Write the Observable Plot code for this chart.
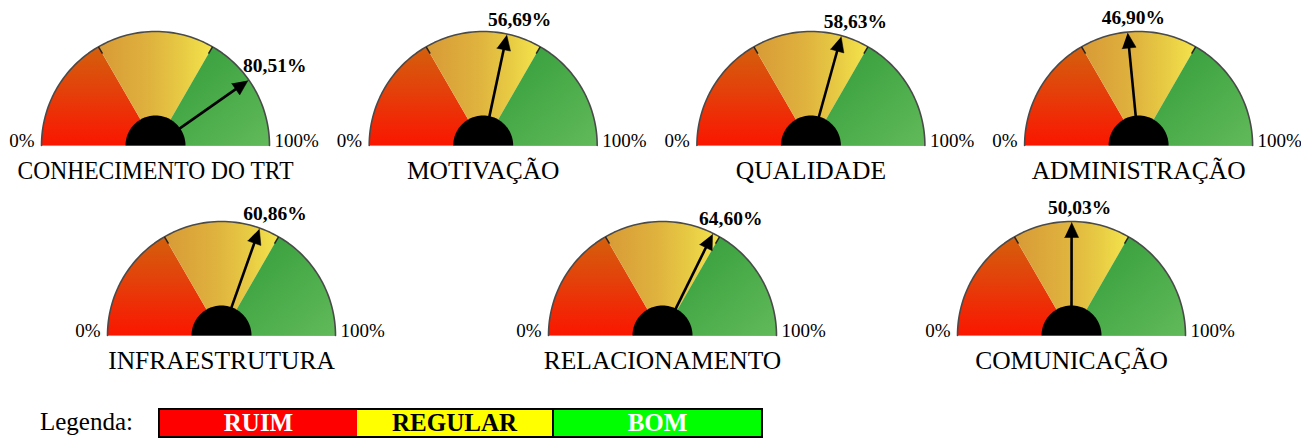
<!DOCTYPE html>
<html><head><meta charset="utf-8">
<script src="https://cdn.jsdelivr.net/npm/d3@7"></script>
<script src="https://cdn.jsdelivr.net/npm/@observablehq/plot@0.6"></script>
<style>
body{margin:0;background:#fff;width:1301px;height:439px;overflow:hidden;font-family:"Liberation Serif","Times New Roman",serif;}
#chart svg{display:block;}
#legend{position:relative;height:39px;width:1301px;}
#legend .lbl{position:absolute;left:40px;top:7px;font-size:25px;line-height:30px;color:#000;}
#legend .box{position:absolute;top:8px;height:26px;border:2px solid #000;box-sizing:content-box;display:flex;align-items:center;justify-content:center;font-weight:bold;font-size:25px;line-height:26px;}
</style></head><body><div id="chart"></div><div id="legend"></div>
<script>
// ---- data ----
const categories = ["CONHECIMENTO DO TRT","MOTIVAÇÃO","QUALIDADE","ADMINISTRAÇÃO","INFRAESTRUTURA","RELACIONAMENTO","COMUNICAÇÃO"];
const values = [80.51, 56.69, 58.63, 46.90, 60.86, 64.60, 50.03];
const bandNames = ["RUIM","REGULAR","BOM"];
const bandStops = [0, 33.33, 66.67, 100];
const endLabels = ["0%","100%"];
const legendTitle = "Legenda:";

// ---- layout ----
const W = 1301, H = 400, R = 114, HUB = 30;
const row2x = [221, 662, 1071];
const centers = categories.map((c, i) => i < 4 ? {cx: 155 + i * 327.7, cy: 145} : {cx: row2x[i - 4], cy: 335});
const ang = p => Math.PI * (1 - p / 100);
const pt = (i, p, rad) => ({x: centers[i].cx + rad * Math.cos(ang(p)), y: centers[i].cy - rad * Math.sin(ang(p))});
const fmt = v => v.toFixed(2).replace(".", ",") + "%";

// sector polygons
const sectors = [];
categories.forEach((c, i) => {
  bandNames.forEach((b, k) => {
    const z = i + "-" + k;
    sectors.push({...pt(i, 0, 0), z, band: k});
    for (let p = bandStops[k]; p <= bandStops[k + 1] + 1e-9; p += (bandStops[k + 1] - bandStops[k]) / 40)
      sectors.push({...pt(i, p, R), z, band: k});
    sectors.push({...pt(i, 0, 0), z, band: k});
  });
});
// outline arc
const arcs = [];
categories.forEach((c, i) => { for (let p = 0; p <= 100; p += 1) arcs.push({...pt(i, p, R), z: i}); });
// hub semicircle
const hubs = [];
categories.forEach((c, i) => { for (let p = 0; p <= 100; p += 2) hubs.push({...pt(i, p, HUB), z: i}); });
// boundary ticks
const ticks = [];
categories.forEach((c, i) => [bandStops[1], bandStops[2]].forEach(s => {
  const a = pt(i, s, R - 8), b = pt(i, s, R);
  ticks.push({x1: a.x, y1: a.y, x2: b.x, y2: b.y});
}));
// needles
const needles = values.map((v, i) => {
  const a = pt(i, v, HUB - 2), b = pt(i, v, R - 12);
  return {x1: a.x, y1: a.y, x2: b.x, y2: b.y};
});
const heads = [];
values.forEach((v, i) => {
  const tip = pt(i, v, R - 1), base = pt(i, v, R - 16);
  const t = ang(v), nx = Math.sin(t) * 7, ny = Math.cos(t) * 7;
  heads.push({x: tip.x, y: tip.y, z: i});
  heads.push({x: base.x + nx, y: base.y + ny, z: i});
  heads.push({x: base.x - nx, y: base.y - ny, z: i});
});
const valueLabels = values.map((v, i) => {
  const tip = pt(i, v, R);
  return {x: tip.x + 8 + 22 * Math.cos(ang(v)), y: tip.y - 8, text: fmt(v)};
});
const endText = [];
categories.forEach((c, i) => {
  endText.push({x: centers[i].cx - R - 7, y: centers[i].cy + 1, text: endLabels[0], anchor: "end"});
  endText.push({x: centers[i].cx + R + 5, y: centers[i].cy + 1, text: endLabels[1], anchor: "start"});
});
const catText = categories.map((c, i) => ({x: centers[i].cx, y: centers[i].cy + 33, text: c}));
const baseLines = categories.map((c, i) => ({x1: centers[i].cx - R, x2: centers[i].cx + R, y: centers[i].cy}));

const font = "Liberation Serif, Times New Roman, serif";
const gradIds = ["gRed", "gYel", "gGrn"];

const chart = Plot.plot({
  width: W, height: H, margin: 0,
  x: {domain: [0, W], range: [0, W], axis: null},
  y: {domain: [0, H], range: [0, H], axis: null},
  style: {fontFamily: font, background: "#fff"},
  marks: [
    ...bandNames.map((b, k) => Plot.line(sectors.filter(d => d.band === k), {x: "x", y: "y", z: "z", fill: `url(#${gradIds[k]})`, stroke: "none", curve: "linear"})),
    Plot.link(baseLines, {x1: "x1", x2: "x2", y1: "y", y2: "y", stroke: "#9a9a9a", strokeWidth: 1}),
    Plot.line(arcs, {x: "x", y: "y", z: "z", stroke: "#4a4a4a", strokeWidth: 1.6, curve: "linear"}),
    Plot.link(ticks, {x1: "x1", y1: "y1", x2: "x2", y2: "y2", stroke: "#222", strokeWidth: 1.5}),
    Plot.line(hubs, {x: "x", y: "y", z: "z", fill: "black", stroke: "none", curve: "linear"}),
    Plot.link(needles, {x1: "x1", y1: "y1", x2: "x2", y2: "y2", stroke: "black", strokeWidth: 2.6, strokeLinecap: "butt"}),
    Plot.line(heads, {x: "x", y: "y", z: "z", fill: "black", stroke: "black", strokeWidth: 0.5, curve: "linear"}),
    Plot.text(valueLabels, {x: "x", y: "y", text: "text", fontSize: 19.5, fontWeight: "bold", textAnchor: "middle", lineAnchor: "bottom", fill: "black"}),
    Plot.text(endText.filter(d => d.anchor === "end"), {x: "x", y: "y", text: "text", fontSize: 19, textAnchor: "end", lineAnchor: "bottom", fill: "black"}),
    Plot.text(endText.filter(d => d.anchor === "start"), {x: "x", y: "y", text: "text", fontSize: 19, textAnchor: "start", lineAnchor: "bottom", fill: "black"}),
    Plot.text(catText, {x: "x", y: "y", text: "text", fontSize: 25.5, textAnchor: "middle", lineAnchor: "bottom", fill: "black"})
  ]
});
document.getElementById("chart").appendChild(chart);

const svg = d3.select(chart);
const defs = svg.insert("defs", ":first-child");
function grad(id, x1, y1, x2, y2, stops) {
  const g = defs.append("linearGradient").attr("id", id).attr("x1", x1).attr("y1", y1).attr("x2", x2).attr("y2", y2);
  stops.forEach(([o, c]) => g.append("stop").attr("offset", o).attr("stop-color", c));
}
grad("gRed", 0, 0, 0, 1, [[0, "#d4600c"], [0.45, "#e4400a"], [1, "#fa1600"]]);
grad("gYel", 0, 0, 1, 0, [[0, "#d89a36"], [0.45, "#dfb23e"], [0.75, "#e8cc44"], [1, "#f4e44c"]]);
grad("gGrn", 0, 0, 1, 1, [[0, "#339a3c"], [0.5, "#48aa48"], [1, "#62ba5a"]]);

// compress an overly wide category label
svg.selectAll("text").each(function () {
  if (this.textContent === categories[0]) { this.setAttribute("textLength", 276); this.setAttribute("lengthAdjust", "spacingAndGlyphs"); }
});

// legend
const legend = d3.select("#legend");
legend.append("div").attr("class", "lbl").text(legendTitle);
const legendBoxes = [
  {left: 158, width: 197, bg: "#ff0000", fg: "#fff"},
  {left: 357, width: 195, bg: "#ffff00", fg: "#000"},
  {left: 554, width: 207, bg: "#00ff00", fg: "#fff"}
];
bandNames.forEach((b, k) => {
  legend.append("div").attr("class", "box")
    .style("left", legendBoxes[k].left + "px").style("width", legendBoxes[k].width + "px")
    .style("background", legendBoxes[k].bg).style("color", legendBoxes[k].fg)
    .style("border-left-width", k === 0 ? "2px" : "0px")
    .text(b);
});
</script></body></html>
